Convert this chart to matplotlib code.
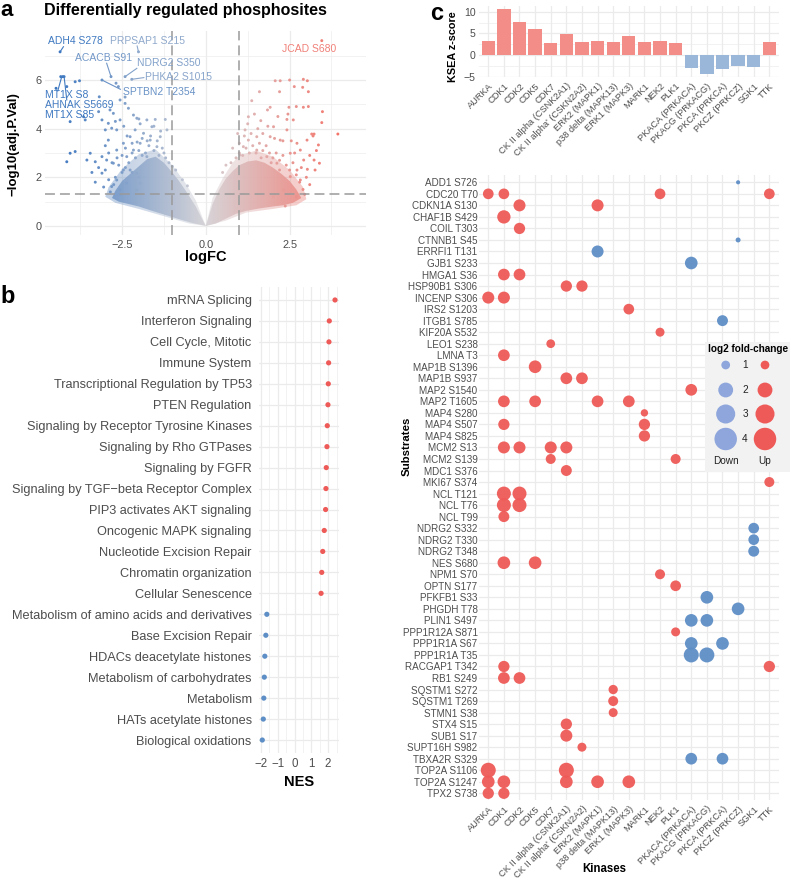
import numpy as np
import matplotlib
matplotlib.use('Agg')
import matplotlib.pyplot as plt
from matplotlib.colors import LinearSegmentedColormap, Normalize

# ======================= DATA =======================
# --- a: volcano, outer / medium-density points (logFC, -log10 adj.P) ---
vol_logfc = [-4.35, -2.01, -4.33, -4.27, -4.23, -4.47, -4.15, -3.90, -3.77, -3.10, -2.83, -2.41,
             -2.21, -2.61, -2.68, -3.18, -4.05, -3.60, -3.10, -2.86, -2.56, -2.41, -2.31, -2.06,
             -1.76, -1.51, -1.21, -4.15, -4.05, -3.55, -3.45, -3.10, -3.10, -2.91, -3.00, -2.81,
             -2.76, -2.81, -2.56, -2.66, -2.46, -2.36, -2.46, -2.26, -2.11, -1.96, -1.86, -1.66,
             -1.46, -1.36, -1.16, -1.61, -1.96, -2.66, -2.16, -1.76, -2.26, -2.06, -1.96, -2.36,
             -2.06, -2.96, -3.30, -3.90, -3.65, -3.20, -2.76, -2.56, -2.41, -2.16, -2.66, -2.91,
             -1.30, -1.40, -1.55, -1.70, -1.80, -1.90, -2.00, -2.10, -2.20, -2.30, -2.40, -2.50,
             -2.60, -2.70, -2.75, -2.90, -3.00, -3.05, -2.85, -2.55, -1.10, -1.20, -1.00, -0.90,
             -0.70, -0.55, -1.45, -1.65, -1.90, -2.20, -2.40, -2.50, -2.65, -2.80, -2.90, -3.20,
             -3.40, -3.30, -1.25, -1.75, -2.05, -2.35, -1.35, -1.55, -2.00, -2.45, -2.70, -3.00,
             -2.20, -2.00,
             3.46, 2.07, 2.22, 2.50, 2.91, 3.03, 2.64, 2.89, 3.06, 2.20, 1.60, 1.37,
             1.92, 1.84, 2.48, 2.70, 2.91, 3.06, 3.48, 3.46, 3.94, 3.16, 3.23, 3.20,
             3.36, 3.23, 3.39, 3.03, 3.26, 1.27, 1.64, 2.42, 2.61, 2.02, 2.42, 1.17,
             1.27, 1.12, 1.52, 1.92, 2.22, 2.72, 2.82, 2.52, 2.92, 2.72, 2.52, 2.82,
             2.32, 2.37, 2.02, 1.52, 1.02, 1.82, 2.12, 3.02,
             0.50, 0.60, 0.75, 0.90, 1.00, 1.10, 1.20, 1.30, 1.40, 1.50, 1.60, 1.70,
             1.80, 1.90, 2.00, 2.10, 2.20, 2.30, 2.40, 2.50, 2.60, 2.70, 2.80, 2.90,
             3.00, 3.10, 2.95, 2.70, 1.00, 1.15, 1.35, 1.55, 1.70, 1.85, 2.05, 2.30,
             2.55, 2.65, 2.45, 2.15, 1.45, 0.95, 0.80, 1.25, 2.85, 3.10, 3.30, 2.20,
             1.95, 1.65]
vol_neglogp = [7.16, 7.16, 6.14, 6.14, 6.14, 5.66, 5.73, 5.93, 5.97, 6.00, 6.14, 6.14,
               6.03, 5.73, 5.87, 5.31, 4.29, 4.36, 4.36, 4.77, 4.36, 5.04, 4.84, 4.43,
               4.36, 4.38, 4.38, 2.64, 2.99, 2.71, 2.99, 2.85, 2.17, 3.53, 3.95, 4.02,
               2.58, 1.62, 1.48, 1.89, 2.30, 2.85, 3.40, 3.67, 3.95, 3.40, 3.81, 3.53,
               3.26, 3.67, 3.95, 4.08, 4.20, 3.12, 3.12, 2.85, 2.30, 2.17, 1.76, 1.76,
               1.48, 2.71, 2.64, 3.06, 4.49, 4.70, 4.63, 5.18, 5.30, 4.56, 3.95, 4.22,
               3.20, 2.90, 3.10, 3.30, 3.00, 2.90, 3.10, 2.80, 3.00, 2.60, 2.40, 2.20,
               2.50, 2.00, 1.70, 1.90, 2.30, 1.60, 1.40, 1.30, 2.60, 2.80, 2.45, 2.30,
               1.90, 1.65, 3.50, 3.70, 3.60, 3.40, 3.20, 2.90, 2.80, 2.60, 3.00, 2.40,
               2.20, 1.80, 3.00, 3.50, 3.45, 3.70, 3.90, 4.10, 4.40, 4.10, 4.30, 3.30,
               2.20, 2.00,
               7.62, 5.97, 5.97, 6.00, 6.03, 5.97, 5.73, 5.70, 5.52, 5.52, 5.52, 5.15,
               4.88, 4.77, 4.88, 4.91, 4.88, 4.91, 4.70, 4.25, 3.78, 3.78, 3.78, 3.70,
               3.33, 2.71, 2.58, 2.33, 2.30, 4.49, 4.33, 4.38, 4.36, 4.08, 3.95, 3.95,
               3.53, 3.26, 3.67, 3.67, 3.53, 3.40, 3.12, 2.99, 2.71, 2.30, 2.03, 1.89,
               1.48, 0.82, 1.20, 3.12, 2.92, 2.85, 2.58, 3.53,
               2.20, 2.50, 2.60, 2.80, 3.00, 2.90, 3.20, 3.00, 3.30, 3.00, 3.40, 3.10,
               3.30, 3.00, 2.80, 3.00, 2.70, 2.90, 2.50, 2.30, 2.60, 2.10, 1.80, 1.50,
               2.00, 1.70, 1.30, 1.20, 3.40, 3.70, 3.80, 4.00, 3.80, 4.10, 3.60, 3.50,
               3.50, 3.00, 4.60, 4.50, 4.60, 3.80, 3.20, 4.20, 2.40, 2.90, 3.10, 2.30,
               2.60, 2.80]
# outline of the dense point cloud: solid core and looser halo
core_left_x = [0, -0.3, -0.6, -0.8, -1.0, -1.25, -1.5, -1.75, -2.0, -2.25, -2.5, -2.7, -2.8,
               -2.6, -2.3, -2.0, -1.6, -1.2, -0.8, -0.4, 0]
core_left_y = [0, 0.8, 1.45, 1.85, 2.2, 2.6, 2.85, 2.75, 2.45, 2.15, 1.85, 1.45, 1.15,
               1.0, 0.9, 0.8, 0.62, 0.45, 0.28, 0.12, 0]
core_right_x = [0, 0.2, 0.4, 0.6, 0.8, 1.0, 1.25, 1.5, 1.75, 2.0, 2.25, 2.5, 2.7, 2.85,
                2.6, 2.3, 2.0, 1.6, 1.2, 0.9, 0.6, 0.3, 0]
core_right_y = [0, 0.9, 1.5, 1.95, 2.25, 2.5, 2.65, 2.7, 2.6, 2.4, 2.15, 1.85, 1.5, 1.15,
                0.95, 0.85, 0.8, 0.72, 0.62, 0.5, 0.3, 0.1, 0]
halo_left_x = [0, -0.3, -0.6, -1.0, -1.5, -2.0, -2.5, -2.9, -3.0, -2.7, -2.0, -1.2, -0.5, 0]
halo_left_y = [0, 1.05, 1.75, 2.5, 3.15, 2.95, 2.35, 1.6, 1.2, 0.95, 0.7, 0.38, 0.1, 0]
halo_right_x = [0, 0.2, 0.5, 0.8, 1.0, 1.5, 2.0, 2.5, 2.9, 3.0, 2.7, 2.0, 1.2, 0.6, 0]
halo_right_y = [0, 1.15, 1.95, 2.6, 2.9, 3.1, 2.85, 2.3, 1.6, 1.1, 0.85, 0.7, 0.55, 0.22, 0]
lab_names = ['ADH4 S278', 'PRPSAP1 S215', 'ACACB S91', 'NDRG2 S350', 'PHKA2 S1015',
             'SPTBN2 T2354', 'MT1X S8', 'AHNAK S5669', 'MT1X S85', 'JCAD S680']
lab_logfc = [-4.35, -2.01, -2.83, -2.41, -2.21, -3.10, -4.30, -4.23, -4.47, 3.46]
lab_neglogp = [7.16, 7.16, 6.14, 6.14, 6.03, 6.00, 6.14, 6.14, 5.66, 7.62]

# --- b: pathway enrichment ---
pathways = ['mRNA Splicing', 'Interferon Signaling', 'Cell Cycle, Mitotic', 'Immune System',
            'Transcriptional Regulation by TP53', 'PTEN Regulation',
            'Signaling by Receptor Tyrosine Kinases', 'Signaling by Rho GTPases',
            'Signaling by FGFR', 'Signaling by TGF\u2212beta Receptor Complex',
            'PIP3 activates AKT signaling', 'Oncogenic MAPK signaling',
            'Nucleotide Excision Repair', 'Chromatin organization', 'Cellular Senescence',
            'Metabolism of amino acids and derivatives', 'Base Excision Repair',
            'HDACs deacetylate histones', 'Metabolism of carbohydrates', 'Metabolism',
            'HATs acetylate histones', 'Biological oxidations']
nes = [2.41, 2.07, 2.05, 2.03, 2.01, 1.99, 1.95, 1.93, 1.89, 1.87, 1.85, 1.77, 1.68, 1.62,
       1.58, -1.65, -1.71, -1.77, -1.80, -1.83, -1.86, -1.92]

# --- c: KSEA ---
kinases = ['AURKA', 'CDK1', 'CDK2', 'CDK5', 'CDK7', 'CK II alpha (CSNK2A1)',
           "CK II alpha' (CSKN2A2)", 'ERK2 (MAPK1)', 'p38 delta (MAPK13)', 'ERK1 (MAPK3)',
           'MARK1', 'NEK2', 'PLK1', 'PKACA (PRKACA)', 'PKACG (PRKACG)', 'PKCA (PRKCA)',
           'PKCZ (PRKCZ)', 'SGK1', 'TTK']
kin_short = ['AURKA', 'CDK1', 'CDK2', 'CDK5', 'CDK7', 'CK2A1', 'CK2A2', 'ERK2', 'P38D', 'ERK1',
             'MARK1', 'NEK2', 'PLK1', 'PKACA', 'PKACG', 'PKCA', 'PKCZ', 'SGK1', 'TTK']
ksea_z = [3.3, 10.55, 7.7, 6.0, 2.85, 4.9, 3.0, 3.3, 2.95, 4.45, 3.1, 3.3, 2.85,
          -2.9, -4.4, -3.15, -2.6, -2.85, 2.95]

substrates = ['ADD1 S726', 'CDC20 T70', 'CDKN1A S130', 'CHAF1B S429', 'COIL T303', 'CTNNB1 S45',
              'ERRFI1 T131', 'GJB1 S233', 'HMGA1 S36', 'HSP90B1 S306', 'INCENP S306',
              'IRS2 S1203', 'ITGB1 S785', 'KIF20A S532', 'LEO1 S238', 'LMNA T3', 'MAP1B S1396',
              'MAP1B S937', 'MAP2 S1540', 'MAP2 T1605', 'MAP4 S280', 'MAP4 S507', 'MAP4 S825',
              'MCM2 S13', 'MCM2 S139', 'MDC1 S376', 'MKI67 S374', 'NCL T121', 'NCL T76',
              'NCL T99', 'NDRG2 S332', 'NDRG2 T330', 'NDRG2 T348', 'NES S680', 'NPM1 S70',
              'OPTN S177', 'PFKFB1 S33', 'PHGDH T78', 'PLIN1 S497', 'PPP1R12A S871',
              'PPP1R1A S67', 'PPP1R1A T35', 'RACGAP1 T342', 'RB1 S249', 'SQSTM1 S272',
              'SQSTM1 T269', 'STMN1 S38', 'STX4 S15', 'SUB1 S17', 'SUPT16H S982',
              'TBXA2R S329', 'TOP2A S1106', 'TOP2A S1247', 'TPX2 S738']
dot_kin = [['PKCZ'], ['AURKA', 'CDK1', 'NEK2', 'TTK'], ['CDK2', 'ERK2'], ['CDK1'], ['CDK2'],
           ['PKCZ'], ['ERK2'], ['PKACA'], ['CDK1', 'CDK2'], ['CK2A1', 'CK2A2'],
           ['AURKA', 'CDK1'], ['ERK1'], ['PKCA'], ['NEK2'], ['CDK7'], ['CDK1'], ['CDK5'],
           ['CK2A1', 'CK2A2'], ['PKACA'], ['CDK1', 'CDK5', 'ERK2', 'ERK1'], ['MARK1'],
           ['CDK1', 'MARK1'], ['MARK1'], ['CDK1', 'CDK2', 'CDK7', 'CK2A1'], ['CDK7', 'PLK1'],
           ['CK2A1'], ['TTK'], ['CDK1', 'CDK2'], ['CDK1', 'CDK2'], ['CDK1'], ['SGK1'],
           ['SGK1'], ['SGK1'], ['CDK1', 'CDK5'], ['NEK2'], ['PLK1'], ['PKACG'], ['PKCZ'],
           ['PKACA', 'PKACG'], ['PLK1'], ['PKACA', 'PKCA'], ['PKACA', 'PKACG'],
           ['CDK1', 'TTK'], ['CDK1', 'CDK2'], ['P38D'], ['P38D'], ['P38D'], ['CK2A1'],
           ['CK2A1'], ['CK2A2'], ['PKACA', 'PKCA'], ['AURKA', 'CK2A1'],
           ['AURKA', 'CDK1', 'CK2A1', 'ERK2', 'ERK1'], ['AURKA', 'CDK1']]
dot_lfc = [[-0.60], [1.26, 1.26, 1.26, 1.26], [1.47, 1.47], [1.70], [1.35],
           [-0.65], [-1.47], [-1.58], [1.42, 1.42], [1.35, 1.35],
           [1.47, 1.47], [1.26], [-1.30], [1.03], [1.00], [1.42], [1.58],
           [1.42, 1.42], [1.42], [1.42, 1.42, 1.42, 1.42], [0.85],
           [1.35, 1.35], [1.35], [1.47, 1.47, 1.47, 1.47], [1.16, 1.16],
           [1.30], [1.16], [1.83, 1.83], [1.83, 1.83], [1.30], [-1.26],
           [-1.26], [-1.30], [1.58, 1.58], [1.16], [1.26], [-1.58], [-1.58],
           [-1.58, -1.58], [1.03], [-1.58, -1.58], [-2.03, -2.03],
           [1.35, 1.35], [1.42, 1.42], [1.07], [1.16], [1.03], [1.35],
           [1.47], [1.03], [-1.42, -1.42], [2.03, 2.03],
           [1.58, 1.58, 1.58, 1.58, 1.58], [1.35, 1.35]]
legend_sizes = [1, 2, 3, 4]

# ======================= LAYOUT / STYLE =======================
lab_text_pos = [(-4.70, 7.62), (-2.86, 7.62), (-3.90, 6.89), (-2.06, 6.69), (-1.81, 6.14),
                (-2.46, 5.52), (-4.80, 5.38), (-4.80, 4.97), (-4.80, 4.56), (2.27, 7.27)]
lab_seg_start = [(-4.25, 7.37), (-2.05, 7.40), (-2.96, 6.69), (-2.06, 6.48), (-1.85, 6.10),
                 (-2.55, 5.62), (-4.42, 5.55), (-4.15, 5.18), None, None]

plt.rcParams['font.family'] = ['Liberation Sans', 'DejaVu Sans']
W, H = 790, 883
fig = plt.figure(figsize=(W / 100, H / 100), dpi=100)
fig.patch.set_facecolor('white')


def add_ax(l, t, r, b):
    return fig.add_axes([l / W, 1 - b / H, (r - l) / W, (b - t) / H])


def ftext(x, y, s, **kw):
    return fig.text(x / W, 1 - y / H, s, **kw)


GRID = '#EBEBEB'
TXT = '#4D4D4D'
RED = '#EE5A57'
BLUE = '#5E8EC6'
BAR_RED = '#F28D88'
BAR_BLUE = '#9AB7DA'


def minimal(ax, minor=True):
    for sp in ax.spines.values():
        sp.set_visible(False)
    ax.tick_params(which='both', length=0, colors=TXT, labelcolor=TXT)
    ax.set_axisbelow(True)
    ax.grid(which='major', color=GRID, lw=0.9, zorder=0)
    if minor:
        ax.grid(which='minor', color=GRID, lw=0.45, zorder=0)


def fmt(v, nd=0):
    s = f'{v:.{nd}f}'
    return s.replace('-', '\u2212')


# ---------------- panel a ----------------
vcmap = LinearSegmentedColormap.from_list('vol', ['#3A76C0', '#D5D2D6', '#F8685C'])
vnorm = Normalize(-4.5, 4.5)
axa = add_ax(45, 31.4, 366, 235.2)
minimal(axa)
ramp = np.linspace(-4.5, 4.5, 256).reshape(1, -1)
for cx, cy, al in [(halo_left_x, halo_left_y, 0.45), (halo_right_x, halo_right_y, 0.45),
                   (core_left_x, core_left_y, 0.9), (core_right_x, core_right_y, 0.9)]:
    poly = axa.fill(cx, cy, facecolor='none', edgecolor='none')[0]
    im = axa.imshow(ramp, extent=(-4.5, 4.5, -0.4, 8.0), cmap=vcmap, norm=vnorm,
                    aspect='auto', origin='lower', zorder=2, interpolation='bilinear', alpha=al)
    im.set_clip_path(poly)
axa.scatter(vol_logfc, vol_neglogp, c=vol_logfc, cmap=vcmap, norm=vnorm, s=4.5, lw=0, zorder=3)
for v in (-1, 1):
    axa.axvline(v, color='#9A9A9A', lw=1.1, ls=(0, (6.5, 3.3)), zorder=4)
axa.axhline(-np.log10(0.05), color='#9A9A9A', lw=1.1, ls=(0, (6.5, 3.3)), zorder=4)
for name, px, py, tp, ss in zip(lab_names, lab_logfc, lab_neglogp, lab_text_pos, lab_seg_start):
    col = vcmap(vnorm(px))
    axa.text(tp[0], tp[1], name, color=col, fontsize=7.5, ha='left', va='center', zorder=6)
    if ss is not None:
        axa.plot([ss[0], px], [ss[1], py], color=col, lw=0.8, zorder=5)
axa.set_xlim(-4.8, 4.78)
axa.set_ylim(-0.38, 8.0)
axa.set_xticks([-2.5, 0, 2.5])
axa.set_xticklabels([fmt(v, 1) for v in [-2.5, 0, 2.5]])
axa.set_xticks([-3.75, -1.25, 1.25, 3.75], minor=True)
axa.set_yticks([0, 2, 4, 6])
axa.set_yticklabels([fmt(v) for v in [0, 2, 4, 6]])
axa.set_yticks([1, 3, 5, 7], minor=True)
axa.tick_params(axis='both', which='major', labelsize=7.9)
axa.tick_params(axis='x', pad=3.5)
axa.tick_params(axis='y', pad=2.4)
ftext(43.5, 10, 'Differentially regulated phosphosites', fontsize=11.5, fontweight='bold',
      ha='left', va='center')
ftext(205.7, 256.7, 'logFC', fontsize=10.5, fontweight='bold', ha='center', va='center')
ftext(13.3, 144, '\u2212log10(adj.P.Val)', fontsize=9.5, fontweight='bold', rotation=90,
      ha='center', va='center')
ftext(0, 0.5, 'a', fontsize=16, fontweight='bold', ha='left', va='top')

# ---------------- panel b ----------------
axb = add_ax(258.6, 287.4, 338.7, 752.6)
minimal(axb)
ypos = np.arange(len(pathways))
axb.scatter(nes, ypos, c=[RED if v > 0 else BLUE for v in nes], s=14, lw=0, zorder=3)
axb.set_xlim(-2.14, 2.63)
axb.set_ylim(len(pathways) - 0.4, -0.6)
axb.set_yticks(ypos)
axb.set_yticklabels(pathways, fontsize=9.2)
axb.set_xticks([-2, -1, 0, 1, 2])
axb.set_xticklabels([fmt(v) for v in [-2, -1, 0, 1, 2]], fontsize=8.3)
axb.set_xticks([-1.5, -0.5, 0.5, 1.5, 2.5], minor=True)
axb.tick_params(axis='y', pad=5)
axb.tick_params(axis='x', pad=4)
ftext(298.6, 781.7, 'NES', fontsize=10.5, fontweight='bold', ha='center', va='center')
ftext(0, 303, 'b', fontsize=17, fontweight='bold', ha='left', va='baseline')

# ---------------- panel c: bars ----------------
xk = np.arange(len(kinases))
axc1 = add_ax(478.9, 6.1, 778.7, 77.3)
minimal(axc1)
axc1.bar(xk, ksea_z, width=0.85, color=[BAR_RED if z > 0 else BAR_BLUE for z in ksea_z], zorder=2)
axc1.set_xlim(-0.6, len(kinases) - 0.4)
axc1.set_ylim(-5.15, 11.3)
axc1.set_yticks([-5, 0, 5, 10])
axc1.set_yticklabels([fmt(v) for v in [-5, 0, 5, 10]], fontsize=7.6)
axc1.set_yticks([-2.5, 2.5, 7.5], minor=True)
axc1.set_xticks(xk)
axc1.set_xticklabels(kinases, rotation=45, ha='right', va='top', rotation_mode='anchor',
                     fontsize=6.7)
axc1.tick_params(axis='x', pad=3)
axc1.tick_params(axis='y', pad=2.5)
ftext(453.3, 46.7, 'KSEA z-score', fontsize=7.8, fontweight='bold', rotation=90,
      ha='center', va='center')
ftext(430, 20, 'c', fontsize=17, fontweight='bold', ha='left', va='baseline')

# ---------------- panel c: dot plot ----------------


def dot_pts(v):
    d_px = 0.4 + 11.8 * np.sqrt(np.maximum(np.abs(np.asarray(v, float)) - 0.5, 0))
    return (d_px * 0.72) ** 2


axc2 = add_ax(478.9, 175.4, 778.7, 800.2)
minimal(axc2, minor=False)
kidx = {k: i for i, k in enumerate(kin_short)}
dx, dy, dv = [], [], []
for i, (ks, vs) in enumerate(zip(dot_kin, dot_lfc)):
    for k, v in zip(ks, vs):
        dx.append(kidx[k])
        dy.append(i)
        dv.append(v)
axc2.scatter(dx, dy, s=dot_pts(dv), c=[RED if v > 0 else BLUE for v in dv], lw=0, zorder=3,
             alpha=0.95)
axc2.set_xlim(-0.6, len(kinases) - 0.4)
axc2.set_ylim(len(substrates) - 0.4, -0.6)
axc2.set_yticks(np.arange(len(substrates)))
axc2.set_yticklabels(substrates, fontsize=7.1)
axc2.set_xticks(xk)
axc2.set_xticklabels(kinases, rotation=45, ha='right', va='top', rotation_mode='anchor',
                     fontsize=6.7)
axc2.tick_params(axis='y', pad=1)
axc2.tick_params(axis='x', pad=3)
ftext(406.7, 446, 'Substrates', fontsize=8.2, fontweight='bold', rotation=90,
      ha='center', va='center')
ftext(604.7, 869, 'Kinases', fontsize=8.3, fontweight='bold', ha='center', va='center')

# ---------------- legend ----------------
axl = add_ax(705, 341.7, 790, 471.7)
axl.set_xlim(705, 790)
axl.set_ylim(471.7, 341.7)
axl.set_facecolor('#F2F2F2')
for sp in axl.spines.values():
    sp.set_visible(False)
axl.set_xticks([])
axl.set_yticks([])
axl.set_zorder(10)
leg_y = [365, 390, 414, 439]
axl.scatter([725.7] * 4, leg_y, s=dot_pts(legend_sizes), c='#8EA6DC', lw=0)
axl.scatter([765] * 4, leg_y, s=dot_pts(legend_sizes), c=RED, lw=0)
for v, yy in zip(legend_sizes, leg_y):
    axl.text(745, yy, str(v), fontsize=7.2, ha='center', va='center', color='#222222')
axl.text(708, 349, 'log2 fold-change', fontsize=7.2, fontweight='bold', ha='left', va='center')
axl.text(725.5, 461, 'Down', fontsize=7.2, ha='center', va='center', color='#222222')
axl.text(764.5, 461, 'Up', fontsize=7.2, ha='center', va='center', color='#222222')

fig.savefig('out.png', dpi=100, facecolor='white')
